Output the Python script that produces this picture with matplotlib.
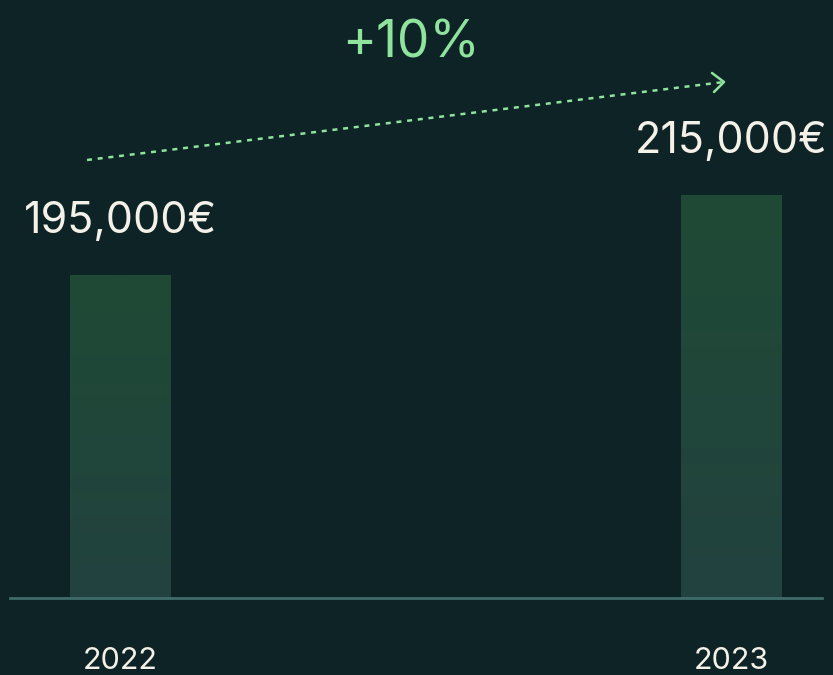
import numpy as np
import matplotlib.pyplot as plt
from matplotlib.colors import LinearSegmentedColormap

years = ['2022', '2023']
revenue = [195000, 215000]
value_labels = ['195,000€', '215,000€']
growth_label = '+10%'

BG = '#0e2326'
GREEN = '#8fe39d'
TXT = '#f3f1e8'
plt.rcParams['font.family'] = ['Inter', 'DejaVu Sans']

fig = plt.figure(figsize=(8.33, 6.75), dpi=100, facecolor=BG)
ax = fig.add_axes([0, 77 / 675, 1, 598 / 675])
ax.set_facecolor(BG)

x = np.arange(len(years))
bars = ax.bar(x, revenue, width=0.164, color='none', zorder=2)
ax.set_xlim(-0.1964, 1.1669)
ax.set_ylim(114250, 263750)

# remplissage en dégradé des barres
cmap = LinearSegmentedColormap.from_list('g', ['#22423f', '#1f4a35'])
grad = np.linspace(0, 1, 256).reshape(-1, 1)
for b in bars:
    x0, y0 = b.get_x(), b.get_y()
    im = ax.imshow(grad, cmap=cmap, origin='lower', aspect='auto',
                   extent=[x0, x0 + b.get_width(), ax.get_ylim()[0], y0 + b.get_height()],
                   zorder=1)
    im.set_clip_path(b)
ax.set_xlim(-0.1964, 1.1669)
ax.set_ylim(114250, 263750)

for xi, v, lab in zip(x, revenue, value_labels):
    ax.annotate(lab, xy=(xi, v), xytext=(0, 30), textcoords='offset points',
                ha='center', va='baseline', fontsize=31, color=TXT)

for s in ax.spines.values():
    s.set_visible(False)
fig.add_artist(plt.Line2D([10 / 833, 822 / 833], [77 / 675, 77 / 675],
                          color='#3f6b69', lw=2))
ax.set_yticks([])
ax.set_xticks(x)
ax.set_xticklabels(years, fontsize=22, color=TXT)
ax.tick_params(axis='x', length=0, pad=35)

# flèche de croissance
x1, y1 = 87 / 833, 1 - 160 / 675
x2, y2 = 724 / 833, 1 - 82 / 675
fig.add_artist(plt.Line2D([x1, x2], [y1, y2], color=GREEN, lw=1.8,
                          linestyle=(0, (2.0, 2.3))))
fig.add_artist(plt.Line2D([712 / 833, 724 / 833, 714 / 833],
                          [1 - 73 / 675, 1 - 82 / 675, 1 - 92 / 675],
                          color=GREEN, lw=1.8, solid_capstyle='round',
                          solid_joinstyle='round'))
fig.text(411 / 833, 1 - 58 / 675, growth_label, ha='center', va='baseline',
         fontsize=37, color=GREEN)

fig.savefig('out.png', dpi=100, facecolor=BG)
